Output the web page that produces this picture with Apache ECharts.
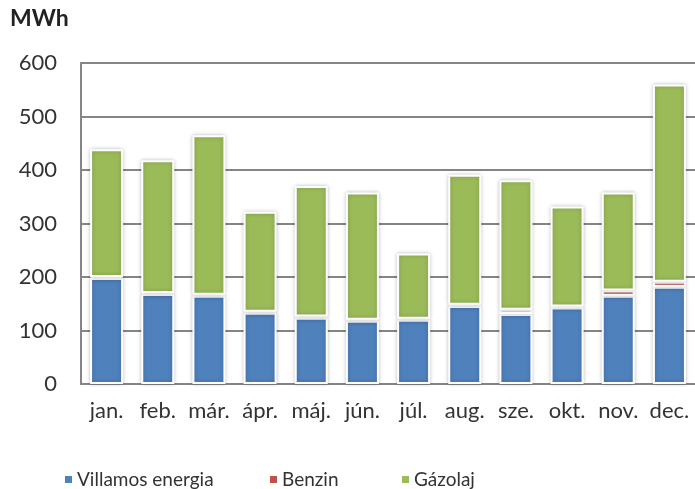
<!DOCTYPE html>
<html>
<head>
<meta charset="utf-8">
<title>MWh</title>
<script src="https://cdn.jsdelivr.net/npm/echarts@6/dist/echarts.min.js"></script>
<style>
	html, body { margin: 0; padding: 0; background: #fff; }
	#chart { width: 695px; height: 489px; }
</style>
</head>
<body>
<div id="chart"></div>
<script>
	// hónapok
	var months = ['jan.', 'feb.', 'már.', 'ápr.', 'máj.', 'jún.', 'júl.', 'aug.', 'sze.', 'okt.', 'nov.', 'dec.'];
	// MWh értékek
	var villamos = [198, 168, 165, 133, 124, 118, 120, 146, 131, 143, 165, 182];
	var benzin = [2, 2, 2, 2, 2, 2, 2, 2, 8, 2, 10, 9];
	var gazolaj = [239, 248, 298, 187, 244, 238, 122, 243, 242, 187, 183, 369];
	var yTicks = [0, 100, 200, 300, 400, 500, 600];

	var font = 'Lato, "Open Sans", sans-serif';
	var textColor = '#333';

	function barStyle(color) {
		return {
			color: color,
			borderColor: '#fff',
			borderWidth: 2,
			shadowBlur: 4,
			shadowColor: 'rgba(0,0,0,0.22)'
		};
	}

	var chart = echarts.init(document.getElementById('chart'), null, { renderer: 'canvas' });
	chart.setOption({
		animation: false,
		title: {
			text: 'MWh',
			left: 10,
			top: 7,
			padding: 0,
			textStyle: { fontFamily: font, fontSize: 23, fontWeight: 'bold', color: '#222' }
		},
		legend: [
			{ data: ['Villamos energia'], left: 63, top: 470 },
			{ data: ['Benzin'], left: 268, top: 470 },
			{ data: ['Gázolaj'], left: 400, top: 470 }
		].map(function (l) {
			l.itemWidth = 9;
			l.itemHeight = 9;
			l.icon = 'rect';
			l.itemGap = 0;
			l.padding = 0;
			l.textStyle = { fontFamily: font, fontSize: 19, color: textColor, padding: [0, 0, 0, -1] };
			return l;
		}),
		grid: { left: 81, right: -3, top: 63, bottom: 105 },
		xAxis: {
			type: 'category',
			data: months,
			axisLine: { lineStyle: { color: '#858585', width: 2 } },
			axisTick: { show: false },
			axisLabel: { fontFamily: font, fontSize: 22, color: textColor, margin: 16, interval: 0 }
		},
		yAxis: {
			type: 'value',
			min: yTicks[0],
			max: yTicks[yTicks.length - 1],
			interval: 100,
			axisLine: { show: true, lineStyle: { color: '#858585', width: 2 } },
			axisTick: { show: false },
			splitLine: { lineStyle: { color: '#858585', width: 2 } },
			axisLabel: { fontFamily: font, fontSize: 22, color: textColor, margin: 24 }
		},
		series: [
			{ name: 'Villamos energia', type: 'bar', stack: 'total', data: villamos, barWidth: 33, itemStyle: barStyle('#4F81BD') },
			{ name: 'Benzin', type: 'bar', stack: 'total', data: benzin, itemStyle: barStyle('#C0504D') },
			{ name: 'Gázolaj', type: 'bar', stack: 'total', data: gazolaj, itemStyle: barStyle('#9BBB59') }
		]
	});
</script>
</body>
</html>
